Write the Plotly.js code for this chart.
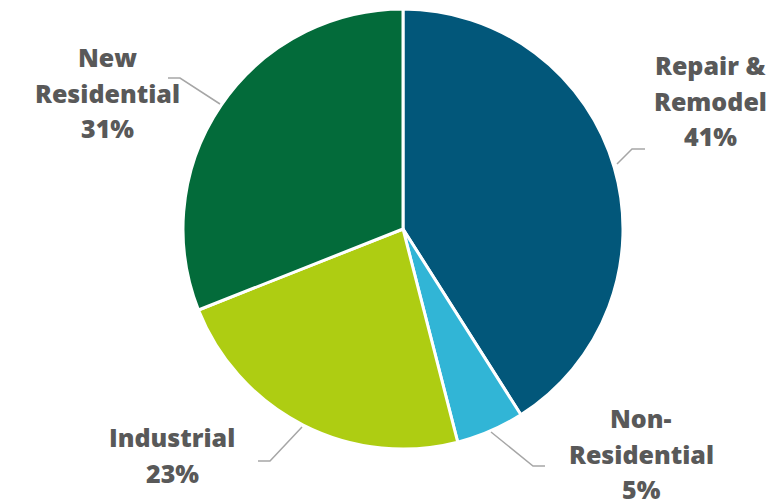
<!DOCTYPE html>
<html><head><meta charset="utf-8">
<script src="https://cdn.plot.ly/plotly-3.0.1.min.js"></script>
<style>html,body{margin:0;padding:0;background:#fff}</style>
</head><body><div id="chart" style="width:773px;height:502px"></div>
<script>
const categories = ["Repair & Remodel", "Non-Residential", "Industrial", "New Residential"];
const values = [41, 5, 23, 31];
const labelLines = [["Repair &", "Remodel"], ["Non-", "Residential"], ["Industrial"], ["New", "Residential"]];
const colors = ["#02577A", "#31B5D6", "#AECD12", "#036B3A"];

// label placement (paper px) and leader lines (layout only)
const labelPos = [[710, 65], [641, 418], [172, 437], [107, 57]];
const leaders = [
  [[617,164],[632,149],[645,149]],
  [[491,432],[533,466],[545,466]],
  [[302,427],[270,461],[258,461]],
  [[220,104],[180,78],[168,78]]
];
const W = 773, H = 502, LH = 35.5;
const px = x => x / W, py = y => 1 - y / H;

const total = values.reduce((a,b)=>a+b,0);
const annotations = [];
categories.forEach((c, i) => {
  const lines = labelLines[i].concat([Math.round(values[i] / total * 100) + "%"]);
  lines.forEach((t, k) => {
    annotations.push({
      x: px(labelPos[i][0]), y: py(labelPos[i][1] + k * LH), xref: "paper", yref: "paper",
      text: t, showarrow: false, xanchor: "center", yanchor: "middle",
      font: {family: "Open Sans", size: 25, color: "#595959", weight: 800}
    });
  });
});
const shapes = leaders.map(pts => ({
  type: "path", xref: "paper", yref: "paper",
  path: "M" + pts.map(p => px(p[0]) + "," + py(p[1])).join(" L"),
  line: {color: "#A6A6A6", width: 1.5}
}));

const cx = 403, cy = 229, r = 220;
Plotly.newPlot("chart", [{
  type: "pie", labels: categories, values: values, sort: false,
  direction: "clockwise", rotation: 0,
  marker: {colors: colors, line: {color: "#ffffff", width: 3}},
  textinfo: "none", hoverinfo: "label+percent",
  domain: {x: [px(cx - r), px(cx + r)], y: [py(cy + r), py(cy - r)]}
}], {
  width: W, height: H, margin: {l:0, r:0, t:0, b:0},
  showlegend: false, paper_bgcolor: "#fff",
  annotations: annotations, shapes: shapes
}, {displayModeBar: false, staticPlot: true});
</script></body></html>
